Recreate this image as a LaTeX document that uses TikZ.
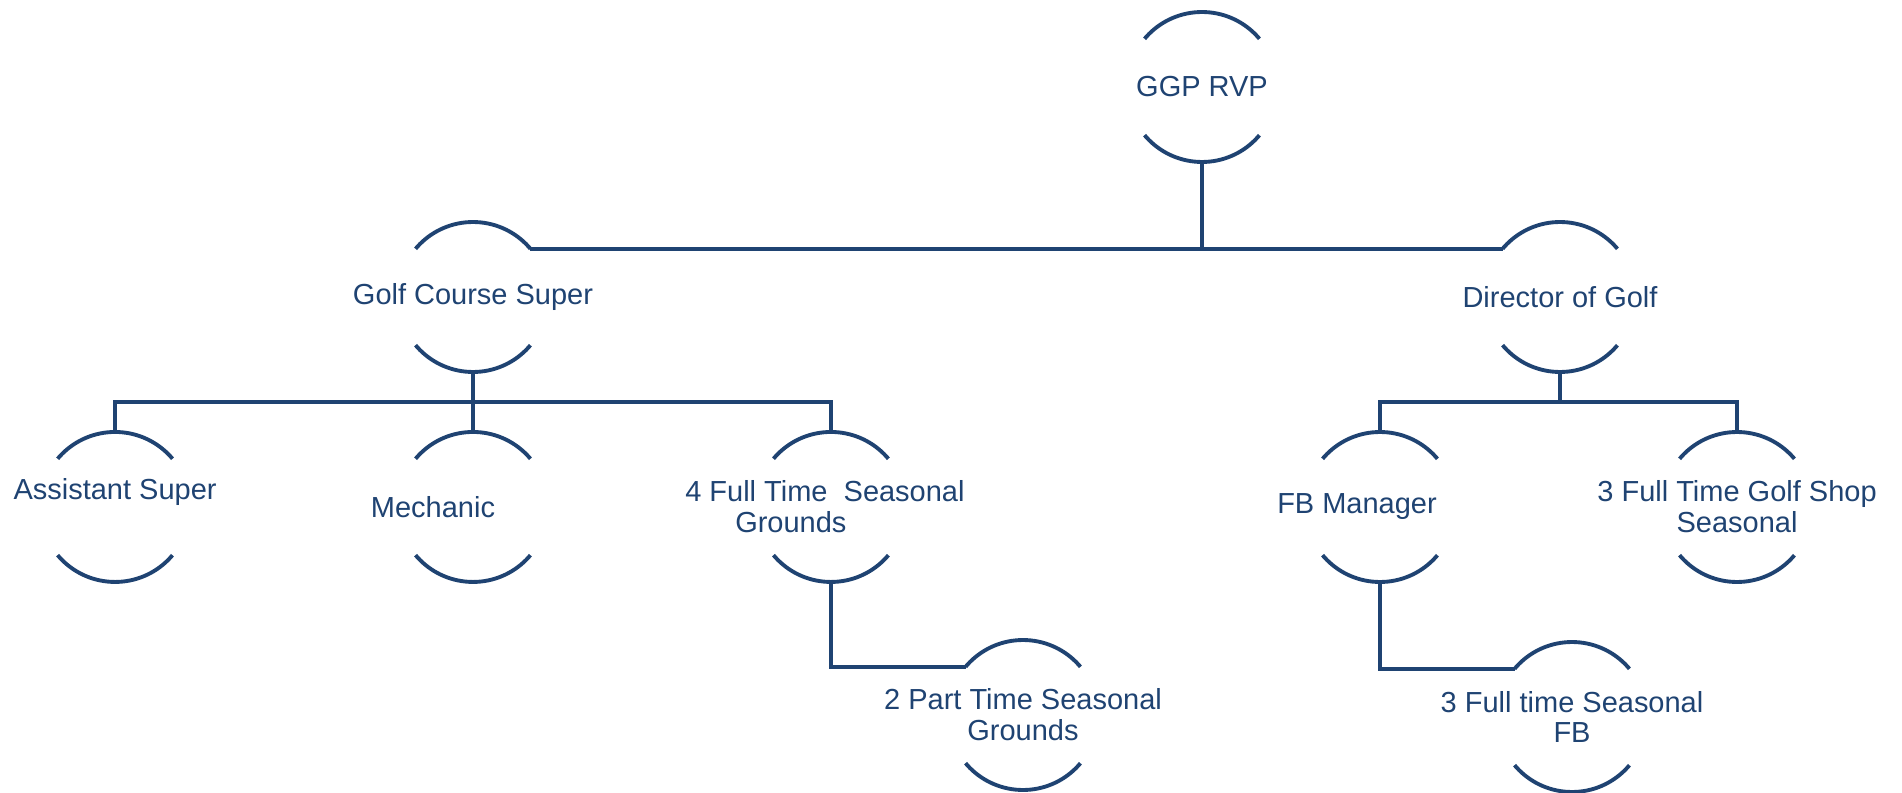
\documentclass[tikz,border=0pt]{standalone}
\usepackage{fontspec}
\setmainfont{Liberation Sans}
\usepackage{xcolor}
\usepackage{tikz}
\usetikzlibrary{positioning}
\definecolor{orgblue}{RGB}{31,67,114}

\begin{document}
\begin{tikzpicture}[
    x=0.02cm, y=-0.02cm,
    role/.style={circle, draw=orgblue, line width=2.2pt, minimum size=3cm, inner sep=0pt, outer sep=0pt, dash pattern=on 2.618cm off 2.094cm, dash phase=3.665cm},
    roletext/.style={text=orgblue, align=center, inner sep=0pt, font=\fontsize{16.5}{17.5}\selectfont},
    link/.style={draw=orgblue, line width=2.2pt}
]
    \useasboundingbox (0,0) rectangle (1902,793);

    \node [role] (rvp) at (1202,87) {};
    \node [role] (gcs) at (473,297) {};
    \node [role] (dog) at (1560,297) {};
    \node [role, below=1.2cm of gcs] (mech) {};
    \node [role, left=4.16cm of mech] (asst) {};
    \node [role, right=4.16cm of mech] (fourft) {};
    \node [role] (twopt) at (1023,715) {};
    \node [role] (fb) at (1380,507) {};
    \node [role] (shop) at (1737,507) {};
    \node [role] (fbs) at (1572,717) {};

    \node [roletext] (rvp-t) at (rvp) {GGP RVP};
    \node [roletext] (gcs-t) at (gcs) {Golf Course Super};
    \node [roletext] (dog-t) at (dog) {Director of Golf};
    \node [roletext, yshift=0.3cm] (asst-t) at (asst) {Assistant Super};
    \node [roletext, xshift=-0.8cm] (mech-t) at (mech) {Mechanic};
    \node [roletext, align=left, xshift=-0.12cm] (fourft-t) at (fourft) {4 Full Time\ \ Seasonal\\\hspace*{1cm}Grounds};
    \node [roletext] (twopt-t) at (twopt) {2 Part Time Seasonal\\Grounds};
    \node [roletext, xshift=-0.46cm] (fb-t) at (fb) {FB Manager};
    \node [roletext] (shop-t) at (shop) {3 Full Time Golf Shop\\Seasonal};
    \node [roletext] (fbs-t) at (fbs) {3 Full time Seasonal\\FB};

    \path [link] (gcs.40) -- (dog.140);
    \path [link] (rvp.south) -- (rvp.south |- gcs.40);
    \path [link] (asst.north) -- ++(0,-30) -| (fourft.north);
    \path [link] (gcs.south) -- (mech.north);
    \path [link] (fourft.south) |- (twopt.140);
    \path [link] (fb.north) -- ++(0,-30) coordinate (dbus) -| (shop.north);
    \path [link] (dog.south) -- (dog.south |- dbus);
    \path [link] (fb.south) |- (fbs.140);
\end{tikzpicture}
\end{document}
